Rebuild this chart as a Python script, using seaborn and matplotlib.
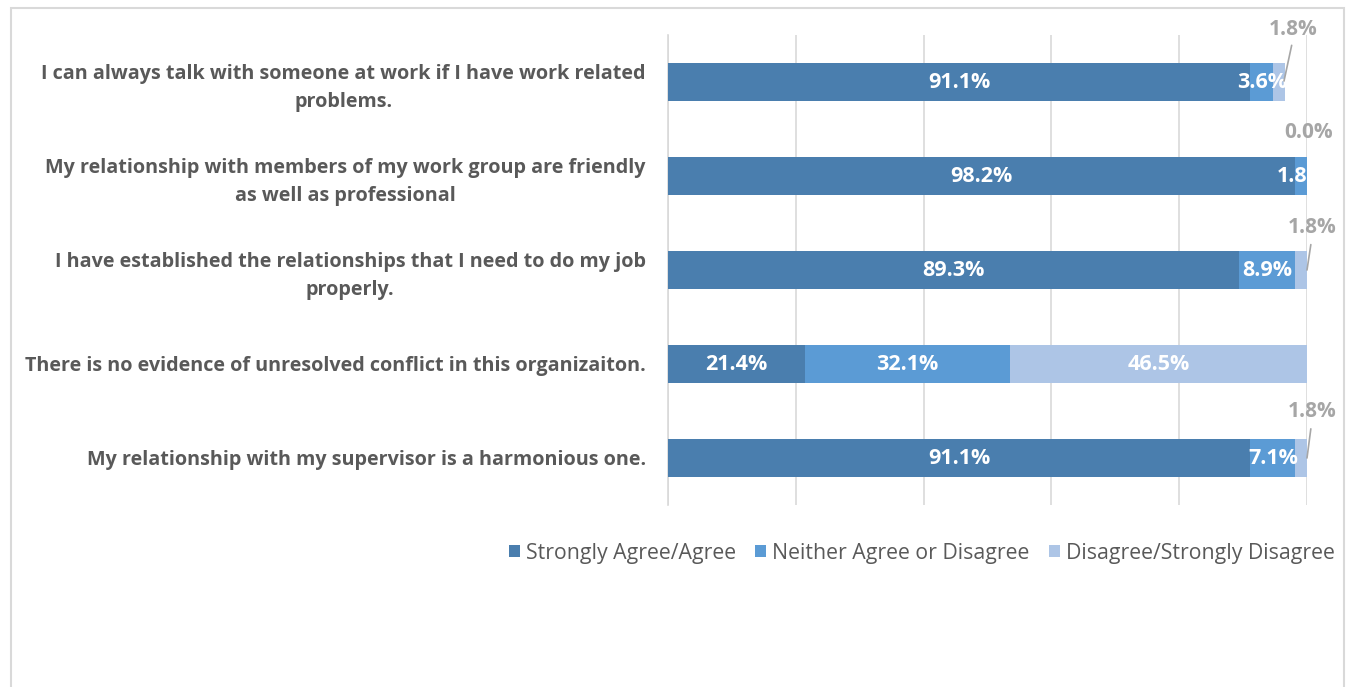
import matplotlib
matplotlib.use("Agg")
import matplotlib.pyplot as plt
from matplotlib.patches import Rectangle, Patch
import seaborn as sns
import pandas as pd
import numpy as np

categories = [
    "I can always talk with someone at work if I have work related\nproblems.",
    "My relationship with members of my work group are friendly\nas well as professional",
    "I have established the relationships that I need to do my job\nproperly.",
    "There is no evidence of unresolved conflict in this organizaiton.",
    "My relationship with my supervisor is a harmonious one.",
]
agree = [91.1, 98.2, 89.3, 21.4, 91.1]
neither = [3.6, 1.8, 8.9, 32.1, 7.1]
disagree = [1.8, 0.0, 1.8, 46.5, 1.8]
series_names = ["Strongly Agree/Agree", "Neither Agree or Disagree", "Disagree/Strongly Disagree"]
colors = ["#4A7EAE", "#5B9BD5", "#ADC5E6"]

sns.set_theme(style="white")
plt.rcParams["font.family"] = ["Open Sans", "DejaVu Sans"]

fig = plt.figure(figsize=(13.51, 6.87), dpi=100)
ax = fig.add_axes([668/1351, 1-505/687, (1307-668)/1351, (505-35)/687])

df = pd.DataFrame({"cat": categories, "agree": agree, "neither": neither, "disagree": disagree})
df["c2"] = df["agree"] + df["neither"]
df["c3"] = df["c2"] + df["disagree"]

for col, c in zip(["c3", "c2", "agree"], colors[::-1]):
    sns.barplot(data=df, x=col, y="cat", color=c, orient="h", width=0.4,
                saturation=1, ax=ax, edgecolor="none", linewidth=0, zorder=3)

ax.set_xlim(0, 100)
ax.set_ylim(4.5, -0.5)
ax.set_xticks(np.arange(0, 101, 20))
ax.set_xticklabels([])
ax.tick_params(axis="x", length=0)
ax.tick_params(axis="y", length=0, pad=16)
ax.grid(axis="x", color="#D9D9D9", linewidth=1.2, zorder=0)
ax.set_axisbelow(True)
for s in ["top", "right", "bottom"]:
    ax.spines[s].set_visible(False)
ax.spines["left"].set_color("#D9D9D9")
ax.spines["left"].set_linewidth(1.2)
ax.set_xlabel("")
ax.set_ylabel("")
for lab in ax.get_yticklabels():
    lab.set_fontsize(14.2)
    lab.set_fontweight("bold")
    lab.set_color("#595959")
    lab.set_multialignment("center")
    lab.set_linespacing(1.5)

white_kw = dict(color="white", fontsize=15.5, fontweight="bold", ha="center", va="center", zorder=5)
gray_kw = dict(color="#A6A6A6", fontsize=15, fontweight="bold", ha="center", va="center", zorder=5)

for i in range(len(categories)):
    a, n, d = agree[i], neither[i], disagree[i]
    ax.text(a/2, i, f"{a:.1f}%", clip_on=True, **white_kw)
    ax.text(a + n/2, i, f"{n:.1f}%", clip_on=True, **white_kw)
    if d >= 5:
        ax.text(a + n + d/2, i, f"{d:.1f}%", **white_kw)

# outside labels with leader lines for small disagree segments
ax.text(97.8, -0.56, f"{disagree[0]:.1f}%", clip_on=False, **gray_kw)
ax.plot([97.6, 96.4], [-0.39, -0.01], color="#A6A6A6", lw=1.2, clip_on=False, zorder=5)
ax.text(100.3, 0.54, f"{disagree[1]:.1f}%", clip_on=False, **gray_kw)
ax.text(100.8, 1.55, f"{disagree[2]:.1f}%", clip_on=False, **gray_kw)
ax.plot([100.6, 100.0], [1.73, 2.0], color="#A6A6A6", lw=1.2, clip_on=False, zorder=5)
ax.text(100.8, 3.51, f"{disagree[4]:.1f}%", clip_on=False, **gray_kw)
ax.plot([100.6, 100.0], [3.69, 4.0], color="#A6A6A6", lw=1.2, clip_on=False, zorder=5)

handles = [Patch(facecolor=c, edgecolor="none") for c in colors]
fig.legend(handles, series_names, loc="center", bbox_to_anchor=(922/1351, 1-553/687),
           ncol=3, frameon=False, fontsize=15.3, labelcolor="#595959",
           handlelength=0.5, handleheight=0.5, handletextpad=0.3, columnspacing=0.9)

fig.patches.append(Rectangle((11/1351, -0.1), (1344-11)/1351, 1.1 - 8/687,
                             transform=fig.transFigure, fill=False,
                             edgecolor="#D9D9D9", linewidth=1.5, zorder=0))

fig.savefig("out.png", dpi=100)
